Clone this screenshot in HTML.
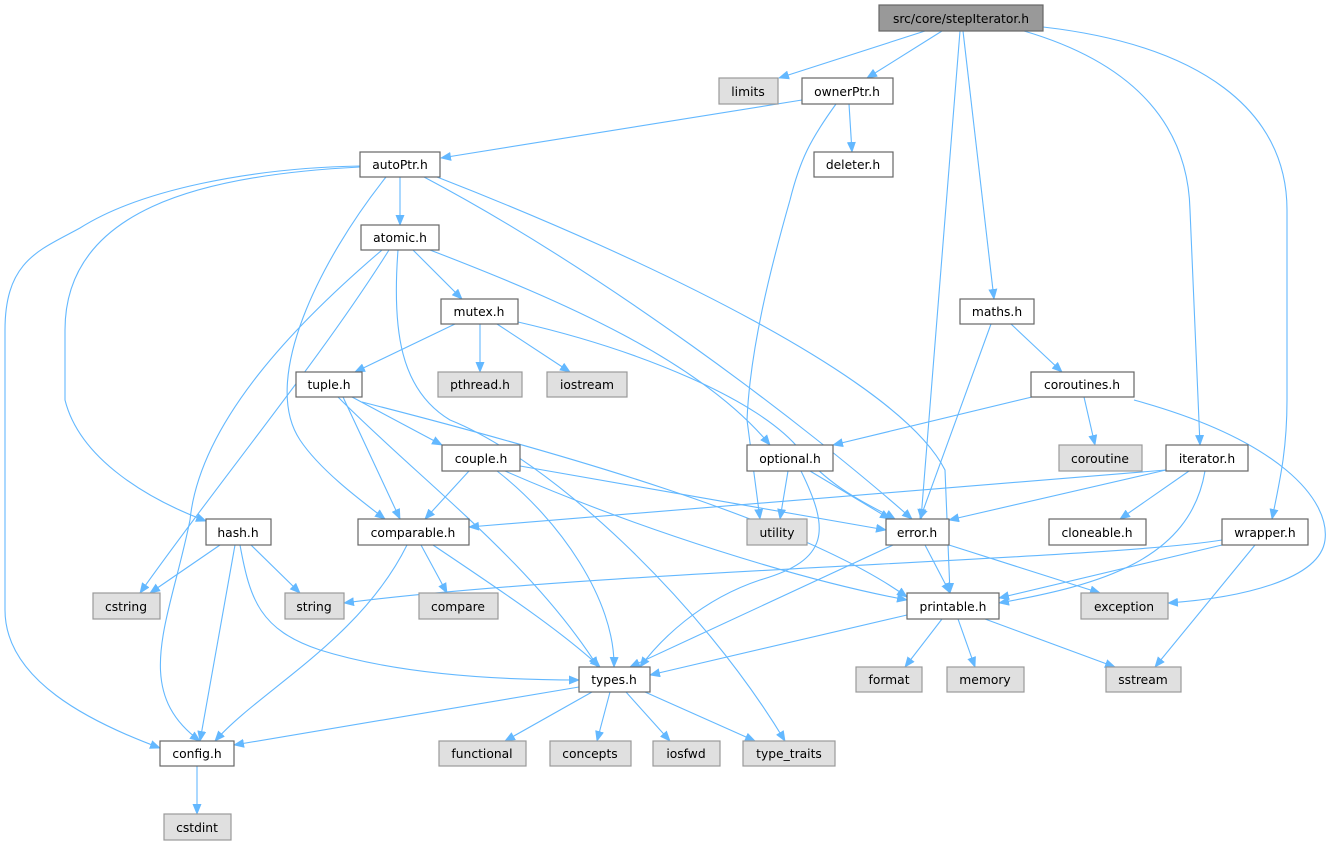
<!DOCTYPE html>
<html><head><meta charset="utf-8"><style>
html,body{margin:0;padding:0;background:#fff}
svg{display:block}
text{font-family:"DejaVu Sans","Liberation Sans",sans-serif;font-size:12.3px;fill:#000}
.n{fill:#fff;stroke:#666;stroke-width:1.2}
.s{fill:#e0e0e0;stroke:#999;stroke-width:1.2}
.r{fill:#999;stroke:#666;stroke-width:1.2}
.e{fill:none;stroke:#63b8ff;stroke-width:1.1}
</style></head><body>
<svg width="1333" height="843" viewBox="0 0 1333 843" xmlns="http://www.w3.org/2000/svg">
<defs><marker id="a" markerWidth="11" markerHeight="9" refX="10" refY="4.5" orient="auto" markerUnits="userSpaceOnUse"><path d="M0,0 L11,4.5 L0,9 z" fill="#63b8ff"/></marker></defs>
<g class="e" marker-end="url(#a)">
<path d="M925,31 L779,78"/>
<path d="M942,31 L867,78"/>
<path d="M960,31 L921,519"/>
<path d="M963,31 L994,299"/>
<path d="M1024,31 C1140,65 1188,130 1190,210 L1200,445"/>
<path d="M1043,27 C1200,45 1287,110 1287,210 L1287,400 C1287,450 1280,480 1272,519"/>
<path d="M802,100 L441,158"/>
<path d="M849,104 L852,152"/>
<path d="M836,104 C810,140 800,160 790,200 C770,270 750,350 747,420 L760,519"/>
<path d="M400,177 L400,225"/>
<path d="M360,166 C250,168 140,190 80,228 C40,250 5,260 5,330 L5,610 C5,680 90,722 160,748"/>
<path d="M360,167 C200,175 65,210 65,330 L65,400 C80,460 150,500 206,521"/>
<path d="M386,177 C320,260 260,380 300,440 C320,470 360,500 385,519"/>
<path d="M424,177 C600,270 800,420 912,519"/>
<path d="M437,177 C650,260 900,380 945,470 L950,593"/>
<path d="M413,250 L462,299"/>
<path d="M430,250 C560,300 700,360 770,445"/>
<path d="M382,250 C300,320 200,420 190,520 C170,620 130,690 200,741"/>
<path d="M389,250 C320,360 220,480 140,593"/>
<path d="M398,250 C392,330 400,390 450,420 C550,460 700,600 785,741"/>
<path d="M455,324 L355,372"/>
<path d="M480,324 L480,372"/>
<path d="M497,324 L570,372"/>
<path d="M518,322 C640,350 760,400 800,450 C830,490 880,510 895,519"/>
<path d="M343,397 L400,519"/>
<path d="M352,397 L442,445"/>
<path d="M338,397 C420,480 530,560 598,667"/>
<path d="M362,402 C550,450 800,520 907,597"/>
<path d="M469,471 L425,519"/>
<path d="M497,471 C560,520 615,600 614,667"/>
<path d="M505,471 C640,530 800,580 907,600"/>
<path d="M520,466 L886,530"/>
<path d="M407,545 C360,640 260,690 215,741"/>
<path d="M421,545 L447,593"/>
<path d="M433,545 C500,590 560,630 600,667"/>
<path d="M220,545 L150,593"/>
<path d="M251,545 L300,593"/>
<path d="M235,545 L200,741"/>
<path d="M240,545 C250,600 260,630 320,650 C400,675 500,680 579,680"/>
<path d="M579,687 L234,745"/>
<path d="M592,692 L505,741"/>
<path d="M610,692 L597,741"/>
<path d="M626,692 L670,741"/>
<path d="M645,692 L755,741"/>
<path d="M197,766 L197,814"/>
<path d="M991,324 L920,519"/>
<path d="M1011,324 L1062,372"/>
<path d="M1032,397 L833,445"/>
<path d="M1084,397 L1095,445"/>
<path d="M1134,400 C1280,440 1330,500 1325,540 C1320,580 1240,598 1168,603"/>
<path d="M788,471 L780,519"/>
<path d="M810,471 L890,519"/>
<path d="M801,471 C830,530 830,560 760,580 C700,600 660,640 640,667"/>
<path d="M1166,470 L469,527"/>
<path d="M1166,470 L949,520"/>
<path d="M1189,471 L1120,519"/>
<path d="M1205,471 C1190,560 1100,585 999,603"/>
<path d="M925,545 L950,593"/>
<path d="M949,545 L1100,593"/>
<path d="M893,545 L630,667"/>
<path d="M1222,540 C1100,560 600,570 344,603"/>
<path d="M1222,545 L999,598"/>
<path d="M1255,545 L1155,667"/>
<path d="M907,615 L650,675"/>
<path d="M942,619 L905,667"/>
<path d="M958,619 L975,667"/>
<path d="M985,619 L1115,667"/>
</g>
<g text-anchor="middle">
<rect class="r" x="879" y="5" width="164" height="26"/><text x="961" y="23">src/core/stepIterator.h</text>
<rect class="s" x="719" y="78" width="59" height="26"/><text x="748" y="96">limits</text>
<rect class="n" x="802" y="78" width="91" height="26"/><text x="847" y="96">ownerPtr.h</text>
<rect class="n" x="360" y="152" width="80" height="25"/><text x="400" y="169">autoPtr.h</text>
<rect class="n" x="814" y="152" width="79" height="25"/><text x="853" y="169">deleter.h</text>
<rect class="n" x="361" y="225" width="78" height="25"/><text x="400" y="242">atomic.h</text>
<rect class="n" x="441" y="299" width="77" height="25"/><text x="479" y="316">mutex.h</text>
<rect class="n" x="960" y="299" width="74" height="25"/><text x="997" y="316">maths.h</text>
<rect class="n" x="296" y="372" width="66" height="25"/><text x="329" y="389">tuple.h</text>
<rect class="s" x="438" y="372" width="84" height="25"/><text x="480" y="389">pthread.h</text>
<rect class="s" x="547" y="372" width="80" height="25"/><text x="587" y="389">iostream</text>
<rect class="n" x="1031" y="372" width="103" height="25"/><text x="1082" y="389">coroutines.h</text>
<rect class="n" x="442" y="445" width="78" height="26"/><text x="481" y="463">couple.h</text>
<rect class="n" x="747" y="445" width="86" height="26"/><text x="790" y="463">optional.h</text>
<rect class="s" x="1059" y="445" width="83" height="26"/><text x="1100" y="463">coroutine</text>
<rect class="n" x="1166" y="445" width="82" height="26"/><text x="1207" y="463">iterator.h</text>
<rect class="n" x="206" y="519" width="65" height="26"/><text x="238" y="537">hash.h</text>
<rect class="n" x="358" y="519" width="111" height="26"/><text x="413" y="537">comparable.h</text>
<rect class="s" x="747" y="519" width="60" height="26"/><text x="777" y="537">utility</text>
<rect class="n" x="886" y="519" width="63" height="26"/><text x="917" y="537">error.h</text>
<rect class="n" x="1049" y="519" width="97" height="26"/><text x="1097" y="537">cloneable.h</text>
<rect class="n" x="1222" y="519" width="86" height="26"/><text x="1265" y="537">wrapper.h</text>
<rect class="s" x="93" y="593" width="67" height="26"/><text x="126" y="611">cstring</text>
<rect class="s" x="285" y="593" width="59" height="26"/><text x="314" y="611">string</text>
<rect class="s" x="419" y="593" width="79" height="26"/><text x="458" y="611">compare</text>
<rect class="n" x="907" y="593" width="92" height="26"/><text x="953" y="611">printable.h</text>
<rect class="s" x="1081" y="593" width="87" height="26"/><text x="1124" y="611">exception</text>
<rect class="n" x="579" y="667" width="71" height="25"/><text x="614" y="684">types.h</text>
<rect class="s" x="856" y="667" width="66" height="25"/><text x="889" y="684">format</text>
<rect class="s" x="947" y="667" width="77" height="25"/><text x="985" y="684">memory</text>
<rect class="s" x="1106" y="667" width="75" height="25"/><text x="1143" y="684">sstream</text>
<rect class="n" x="160" y="741" width="74" height="25"/><text x="197" y="758">config.h</text>
<rect class="s" x="439" y="741" width="87" height="25"/><text x="482" y="758">functional</text>
<rect class="s" x="550" y="741" width="81" height="25"/><text x="590" y="758">concepts</text>
<rect class="s" x="653" y="741" width="67" height="25"/><text x="686" y="758">iosfwd</text>
<rect class="s" x="743" y="741" width="92" height="25"/><text x="789" y="758">type_traits</text>
<rect class="s" x="164" y="814" width="67" height="26"/><text x="197" y="832">cstdint</text>
</g>
</svg>
</body></html>
